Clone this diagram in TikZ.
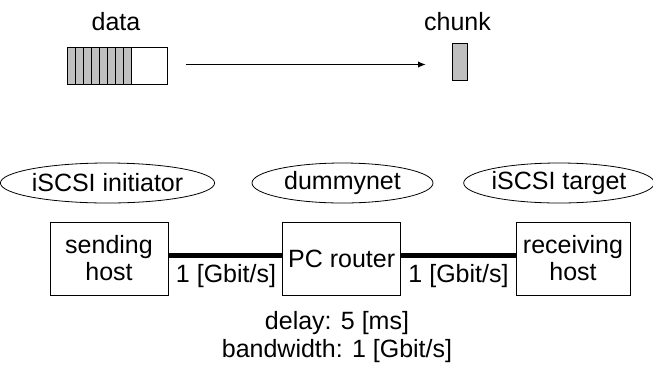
\documentclass[tikz,border=0pt]{standalone}
\usepackage{fontspec}
\setmainfont{Liberation Sans}
\usetikzlibrary{shapes.geometric,arrows.meta}
\definecolor{cellgray}{RGB}{192,192,192}
\begin{document}
\begin{tikzpicture}[x=1pt,y=-1pt,
  every node/.style={font=\fontsize{25}{27}\selectfont},
  hostbox/.style={draw,line width=0.9pt,minimum width=118pt,minimum height=73pt,inner sep=0pt,align=center},
  role/.style={draw,ellipse,line width=0.8pt,inner sep=0pt},
  link/.style={line width=5pt},
  plain/.style={inner sep=0pt,align=center}]
\useasboundingbox (0,0) rectangle (653,365);
% data bar
\foreach \i in {0,...,7}{
  \filldraw[fill=cellgray,draw=black,line width=0.8pt] (67+8*\i,47) rectangle (75+8*\i,84);
}
\node[draw,line width=0.9pt,minimum width=100pt,minimum height=37pt,inner sep=0pt] (data) at (117,65.5) {};
\node[plain] (datalbl) at (116,22) {data};
% chunk
\node[draw,fill=cellgray,line width=0.9pt,minimum width=15pt,minimum height=37.5pt,inner sep=0pt] (chunk) at (459.8,62) {};
\node[plain] (chunklbl) at (457.5,22) {chunk};
\coordinate (as) at (186,64.5);
\coordinate (ae) at (426,64.5);
\draw[line width=1.6pt,-{Latex[length=8pt,width=6.5pt]}] (as) -- (ae);
% role ellipses
\node[role,minimum width=195pt,minimum height=40pt] (init) at (107.5,183) {iSCSI initiator};
\node[role,minimum width=181pt,minimum height=40pt] (dummy) at (342.5,183) {dummynet};
\node[role,minimum width=178pt,minimum height=40pt] (target) at (559,183) {iSCSI target};
% hosts
\node[hostbox] (send) at (109,258.5) {sending\\host};
\node[hostbox] (router) at (341.7,258.5) {PC router};
\node[hostbox,minimum width=114pt] (recv) at (573,258.5) {receiving\\host};
\draw[link] (send.east |- 0,255) -- (router.west |- 0,255);
\draw[link] (router.east |- 0,255) -- (recv.west |- 0,255);
\node[plain] (l1) at (226,276) {1 [Gbit/s]};
\node[plain] (l2) at (458.5,276) {1 [Gbit/s]};
\node[plain] (delay) at (337,323) {delay: 5 [ms]};
\node[plain] (bw) at (337,351) {bandwidth: 1 [Gbit/s]};
\end{tikzpicture}
\end{document}
